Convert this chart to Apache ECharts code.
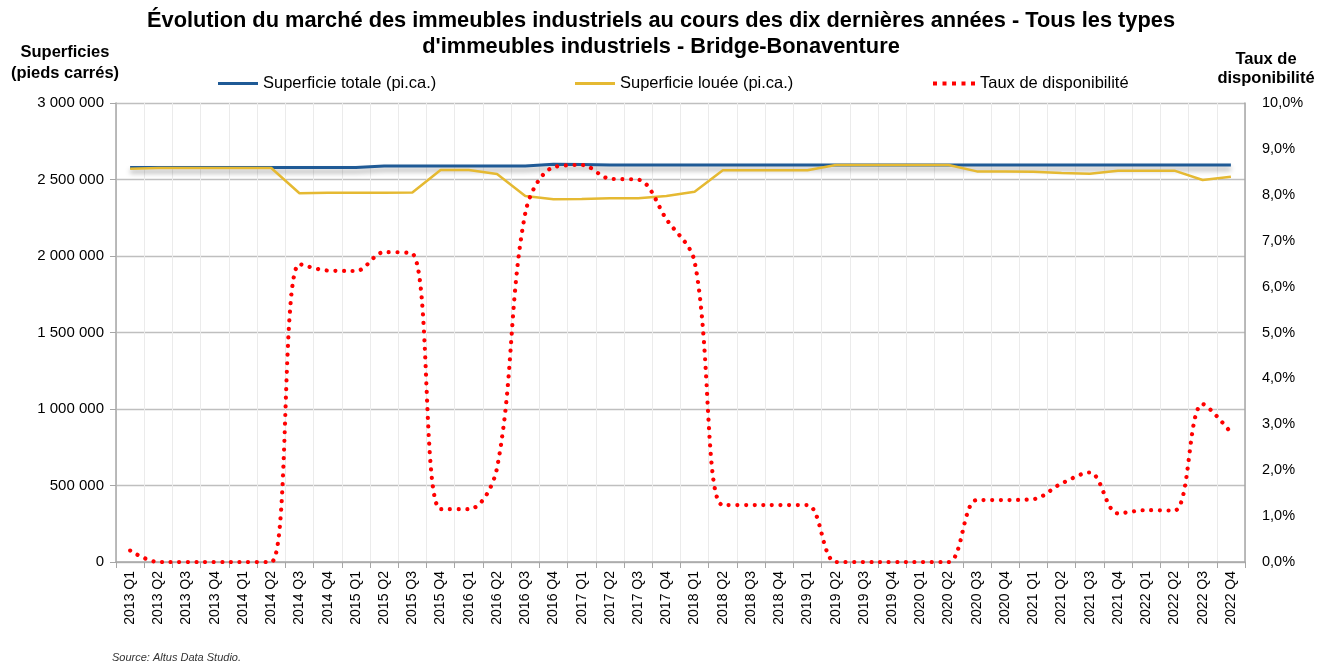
<!DOCTYPE html>
<html>
<head>
<meta charset="utf-8">
<script src="https://cdn.jsdelivr.net/npm/echarts@6/dist/echarts.min.js"></script>
<style>
  html, body { margin: 0; padding: 0; background: #fff; }
  #chart { width: 1328px; height: 665px; }
</style>
</head>
<body>
<div id="chart"></div>
<script>
// Quarterly periods
const quarters = [
  '2013 Q1','2013 Q2','2013 Q3','2013 Q4',
  '2014 Q1','2014 Q2','2014 Q3','2014 Q4',
  '2015 Q1','2015 Q2','2015 Q3','2015 Q4',
  '2016 Q1','2016 Q2','2016 Q3','2016 Q4',
  '2017 Q1','2017 Q2','2017 Q3','2017 Q4',
  '2018 Q1','2018 Q2','2018 Q3','2018 Q4',
  '2019 Q1','2019 Q2','2019 Q3','2019 Q4',
  '2020 Q1','2020 Q2','2020 Q3','2020 Q4',
  '2021 Q1','2021 Q2','2021 Q3','2021 Q4',
  '2022 Q1','2022 Q2','2022 Q3','2022 Q4'
];

// Total inventory (sq. ft.)
const superficieTotale = [
  2578000, 2578000, 2578000, 2578000, 2578000, 2578000, 2578000, 2578000,
  2578000, 2588000, 2588000, 2588000, 2588000, 2588000, 2588000, 2600000,
  2598000, 2595000, 2595000, 2595000, 2595000, 2595000, 2595000, 2595000,
  2595000, 2595000, 2595000, 2595000, 2595000, 2595000, 2595000, 2595000,
  2595000, 2595000, 2595000, 2595000, 2595000, 2595000, 2595000, 2595000
];

// Leased area (sq. ft.)
const superficieLouee = [
  2570000, 2575000, 2575000, 2575000, 2575000, 2575000, 2410000, 2413000,
  2414000, 2414000, 2415000, 2562000, 2562000, 2536000, 2392000, 2371000,
  2372000, 2377000, 2377000, 2392000, 2420000, 2560000, 2560000, 2560000,
  2560000, 2595000, 2595000, 2595000, 2595000, 2595000, 2553000, 2553000,
  2550000, 2542000, 2538000, 2557000, 2558000, 2558000, 2497000, 2518000
];

// Availability rate (%)
const tauxDisponibilite = [
  0.25, 0, 0, 0, 0, 0, 6.49, 6.35,
  6.34, 6.75, 6.72, 1.15, 1.15, 2.05, 7.6, 8.6,
  8.65, 8.35, 8.33, 7.47, 6.54, 1.24, 1.24, 1.24,
  1.24, 0, 0, 0, 0, 0, 1.35, 1.35,
  1.37, 1.71, 1.95, 1.06, 1.13, 1.12, 3.44, 2.82
];

const leftTicks = [0, 500000, 1000000, 1500000, 2000000, 2500000, 3000000];
const rightTicks = [0, 1, 2, 3, 4, 5, 6, 7, 8, 9, 10];

const FONT = '"Liberation Sans", Arial, sans-serif';
const BLUE = '#1F5A96';
const GOLD = '#E5B932';
const RED = '#FF0000';

function fmtThousands(v) {
  return String(Math.round(v)).replace(/\B(?=(\d{3})+(?!\d))/g, ' ');
}

const chart = echarts.init(document.getElementById('chart'), null, { renderer: 'canvas' });

const legendText = { fontFamily: FONT, fontSize: 16.5, color: '#000' };

chart.setOption({
  backgroundColor: '#ffffff',
  animation: false,
  grid: { left: 116, right: 83, top: 103, bottom: 103, containLabel: false },
  legend: [
    {
      left: 213, top: 70, itemWidth: 40, itemHeight: 3, itemGap: 0,
      icon: 'rect', textStyle: legendText,
      data: [{ name: 'Superficie totale (pi.ca.)', itemStyle: { color: BLUE } }]
    },
    {
      left: 570, top: 70, itemWidth: 40, itemHeight: 3, itemGap: 0,
      icon: 'rect', textStyle: legendText,
      data: [{ name: 'Superficie louée (pi.ca.)', itemStyle: { color: GOLD } }]
    },
    {
      left: 928, top: 70, itemWidth: 42, itemHeight: 4, itemGap: 0,
      textStyle: legendText,
      data: [{
        name: 'Taux de disponibilité',
        icon: 'path://M0,0h4v4h-4zM9.5,0h4v4h-4zM19,0h4v4h-4zM28.5,0h4v4h-4zM38,0h4v4h-4z',
        itemStyle: { color: RED }
      }]
    }
  ],
  graphic: [
    {
      type: 'text', x: 661, y: 8,
      style: {
        text: 'Évolution du marché des immeubles industriels au cours des dix dernières années - Tous les types\nd\'immeubles industriels - Bridge-Bonaventure',
        font: 'bold 21.8px ' + FONT, fill: '#000', align: 'center', verticalAlign: 'top', lineHeight: 26
      }
    },
    {
      type: 'text', x: 65, y: 42,
      style: { text: 'Superficies\n(pieds carrés)', font: 'bold 16.5px ' + FONT, fill: '#000', align: 'center', verticalAlign: 'top', lineHeight: 21 }
    },
    {
      type: 'text', x: 1266, y: 50,
      style: { text: 'Taux de\ndisponibilité', font: 'bold 16.5px ' + FONT, fill: '#000', align: 'center', verticalAlign: 'top', lineHeight: 19 }
    },
    {
      type: 'text', x: 112, y: 652,
      style: { text: 'Source: Altus Data Studio.', font: 'italic 11px ' + FONT, fill: '#333', verticalAlign: 'top' }
    }
  ],
  xAxis: {
    type: 'category',
    data: quarters,
    boundaryGap: true,
    axisLine: { show: true, lineStyle: { color: '#A6A6A6', width: 1.5 } },
    axisTick: { show: true, alignWithLabel: false, length: 6, lineStyle: { color: '#A6A6A6' } },
    axisLabel: { rotate: 90, interval: 0, fontFamily: FONT, fontSize: 14, color: '#000', margin: 9 },
    splitLine: { show: true, interval: 0, lineStyle: { color: '#EBEBEB', width: 1 } }
  },
  yAxis: [
    {
      type: 'value',
      min: leftTicks[0], max: leftTicks[leftTicks.length - 1], interval: 500000,
      position: 'left',
      axisLine: { show: true, lineStyle: { color: '#A6A6A6', width: 1.5 } },
      axisTick: { show: true, length: 6, lineStyle: { color: '#A6A6A6' } },
      axisLabel: { fontFamily: FONT, fontSize: 15, color: '#000', margin: 12, formatter: fmtThousands },
      splitLine: { show: true, lineStyle: { color: '#BFBFBF', width: 1.3 } }
    },
    {
      type: 'value',
      min: rightTicks[0], max: rightTicks[rightTicks.length - 1], interval: 1,
      position: 'right',
      axisLine: { show: true, lineStyle: { color: '#A6A6A6', width: 1.5 } },
      axisTick: { show: false },
      axisLabel: { fontFamily: FONT, fontSize: 14.5, color: '#000', margin: 17,
        formatter: v => v.toFixed(1).replace('.', ',') + '%' },
      splitLine: { show: false }
    }
  ],
  series: [
    {
      name: 'Superficie totale (pi.ca.)',
      type: 'line',
      yAxisIndex: 0,
      data: superficieTotale,
      symbol: 'none',
      z: 2,
      lineStyle: { color: BLUE, width: 3, shadowColor: 'rgba(0,0,0,0.35)', shadowBlur: 5, shadowOffsetY: 4 },
      itemStyle: { color: BLUE }
    },
    {
      name: 'Superficie louée (pi.ca.)',
      type: 'line',
      yAxisIndex: 0,
      data: superficieLouee,
      symbol: 'none',
      z: 3,
      lineStyle: { color: GOLD, width: 2.5 },
      itemStyle: { color: GOLD }
    },
    {
      name: 'Taux de disponibilité',
      type: 'line',
      yAxisIndex: 1,
      data: tauxDisponibilite,
      symbol: 'none',
      smooth: 0.35,
      z: 4,
      lineStyle: { color: RED, width: 4.2, type: [0.01, 8.6], cap: 'round' },
      itemStyle: { color: RED }
    }
  ]
});
</script>
</body>
</html>
